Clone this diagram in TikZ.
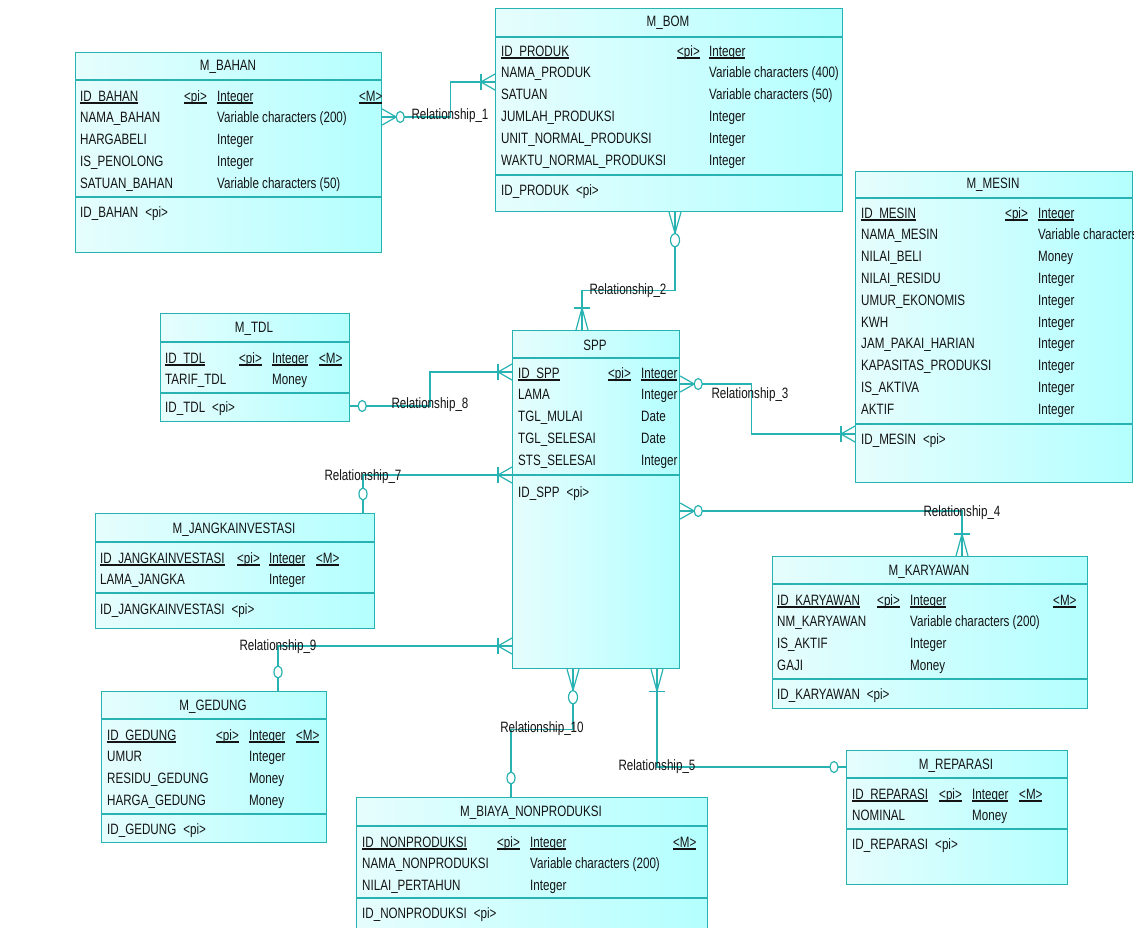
\documentclass[tikz,border=0pt]{standalone}
\usepackage{fontspec}
\setmainfont{Liberation Sans}[FakeStretch=0.775]
\usepackage{xcolor}

\definecolor{erline}{RGB}{40,178,178}
\definecolor{erfillA}{RGB}{230,253,253}
\definecolor{erfillB}{RGB}{180,255,255}
\definecolor{ertext}{RGB}{20,20,20}

\newcommand{\erfont}{\fontsize{15}{21.8}\selectfont}
\newcommand{\keyline}[1]{\setbox0\hbox{#1}\rlap{\rule[-2.5pt]{\wd0}{1.2pt}}\box0}

\begin{document}
\begin{tikzpicture}[x=1pt, y=-1pt,
    every node/.style={
        inner sep=0pt,
        text=ertext,
        font=\erfont
    },
    entity/.style={
        rectangle,
        draw=erline,
        line width=1.2pt,
        left color=erfillA,
        right color=erfillB,
        anchor=north west
    },
    sep/.style={draw=erline, line width=1.2pt},
    rel/.style={draw=erline, line width=1.2pt},
    % multi-line columns sit on the baseline of their last line
    col/.style={anchor=base west, align=left},
    zmanyh/.pic={
        \draw[rel] (0,-8) -- (14,0) -- (0,8);
        \draw[rel, fill=white] (18,0) ellipse (4 and 5.5);
    },
    omanyh/.pic={
        \draw[rel] (0,-8) -- (14,0) -- (0,8);
        \draw[rel] (14,-8) -- (14,8);
    },
    zoneh/.pic={
        \draw[rel, fill=white] (12,0) ellipse (4 and 5.5);
    },
    zmanyv/.pic={
        \draw[rel] (-6,0) -- (0,21) -- (6,0);
        \draw[rel, fill=white] (0,28) ellipse (4.5 and 6.5);
    },
    omanyv/.pic={
        \draw[rel] (-6,0) -- (0,22) -- (6,0);
        \draw[rel] (-8,22) -- (8,22);
    },
    zonev/.pic={
        \draw[rel, fill=white] (0,19) ellipse (4 and 6);
    }
]
    \fill[white] (0,0) rectangle (1137,927);
    \useasboundingbox (0,0) rectangle (1137,927);

    % M_BAHAN
    \node[entity, minimum width=306pt, minimum height=200pt] (bahan) at (75,52) {};
    \draw[sep] (75,80) -- (381,80);
    \draw[sep] (75,197) -- (381,197);
    \node (bahan_title) at (228,67) {M\_BAHAN};
    \begin{scope}
        \clip (bahan.north west) rectangle (bahan.south east);
        \node[col] (bahan_attr) at (80,188.2)
        {
            \keyline{ID\_BAHAN}\\NAMA\_BAHAN\\HARGABELI\\IS\_PENOLONG\\SATUAN\_BAHAN
        };
        \node[col] (bahan_pi) at (184,101) {\keyline{<pi>}};
        \node[col] (bahan_type) at (217,188.2)
        {
            \keyline{Integer}\\Variable characters (200)\\Integer\\Integer\\Variable characters (50)
        };
        \node[col] (bahan_m) at (359,101) {\keyline{<M>}};
    \end{scope}
    \node[col] (bahan_key) at (80,217) {ID\_BAHAN\hspace{7pt}<pi>};



    % M_BOM
    \node[entity, minimum width=347pt, minimum height=203pt] (bom) at (495,8) {};
    \draw[sep] (495,37) -- (842,37);
    \draw[sep] (495,175) -- (842,175);
    \node (bom_title) at (668,23) {M\_BOM};
    \node[col] (bom_attr) at (501,165)
    {
        \keyline{ID\_PRODUK}\\NAMA\_PRODUK\\SATUAN\\JUMLAH\_PRODUKSI\\UNIT\_NORMAL\_PRODUKSI\\WAKTU\_NORMAL\_PRODUKSI
    };
    \node[col] (bom_pi) at (677,56) {\keyline{<pi>}};
    \node[col] (bom_type) at (709,165)
    {
        \keyline{Integer}\\Variable characters (400)\\Variable characters (50)\\Integer\\Integer\\Integer
    };
    \node[col] (bom_key) at (501,195) {ID\_PRODUK\hspace{7pt}<pi>};



    % M_MESIN
    \node[entity, minimum width=277pt, minimum height=311pt] (mesin) at (855,171) {};
    \draw[sep] (855,198) -- (1132,198);
    \draw[sep] (855,424) -- (1132,424);
    \node (mesin_title) at (993,185) {M\_MESIN};
    \begin{scope}
        \clip (mesin.north west) rectangle (mesin.south east);
        \node[col] (mesin_attr) at (861,414.2)
        {
            \keyline{ID\_MESIN}\\NAMA\_MESIN\\NILAI\_BELI\\NILAI\_RESIDU\\UMUR\_EKONOMIS\\KWH\\JAM\_PAKAI\_HARIAN\\KAPASITAS\_PRODUKSI\\IS\_AKTIVA\\AKTIF
        };
        \node[col] (mesin_pi) at (1005,218) {\keyline{<pi>}};
        \node[col] (mesin_type) at (1038,414.2)
        {
            \keyline{Integer}\\Variable characters (200)\\Money\\Integer\\Integer\\Integer\\Integer\\Integer\\Integer\\Integer
        };
    \end{scope}
    \node[col] (mesin_key) at (861,444) {ID\_MESIN\hspace{7pt}<pi>};



    % M_TDL
    \node[entity, minimum width=189pt, minimum height=108pt] (tdl) at (160,313) {};
    \draw[sep] (160,342) -- (349,342);
    \draw[sep] (160,393) -- (349,393);
    \node (tdl_title) at (254,329) {M\_TDL};
    \node[col] (tdl_attr) at (165,384.8) {\keyline{ID\_TDL}\\TARIF\_TDL};
    \node[col] (tdl_pi) at (239,363) {\keyline{<pi>}};
    \node[col] (tdl_type) at (272,384.8) {\keyline{Integer}\\Money};
    \node[col] (tdl_m) at (319,363) {\keyline{<M>}};
    \node[col] (tdl_key) at (165,412) {ID\_TDL\hspace{7pt}<pi>};



    % SPP
    \node[entity, minimum width=167pt, minimum height=338pt] (spp) at (512,330) {};
    \draw[sep] (512,358) -- (679,358);
    \draw[sep] (512,475) -- (679,475);
    \node (spp_title) at (595,345) {SPP};
    \node[col] (spp_attr) at (518,465.2)
    {
        \keyline{ID\_SPP}\\LAMA\\TGL\_MULAI\\TGL\_SELESAI\\STS\_SELESAI
    };
    \node[col] (spp_pi) at (608,378) {\keyline{<pi>}};
    \node[col] (spp_type) at (641,465.2) {\keyline{Integer}\\Integer\\Date\\Date\\Integer};
    \node[col] (spp_key) at (518,497) {ID\_SPP\hspace{7pt}<pi>};



    % M_JANGKAINVESTASI
    \node[entity, minimum width=279pt, minimum height=115pt] (jangka) at (95,513) {};
    \draw[sep] (95,542) -- (374,542);
    \draw[sep] (95,593) -- (374,593);
    \node (jangka_title) at (234,530) {M\_JANGKAINVESTASI};
    \node[col] (jangka_attr) at (100,584.8) {\keyline{ID\_JANGKAINVESTASI}\\LAMA\_JANGKA};
    \node[col] (jangka_pi) at (237,563) {\keyline{<pi>}};
    \node[col] (jangka_type) at (269,584.8) {\keyline{Integer}\\Integer};
    \node[col] (jangka_m) at (316,563) {\keyline{<M>}};
    \node[col] (jangka_key) at (100,614) {ID\_JANGKAINVESTASI\hspace{7pt}<pi>};



    % M_KARYAWAN
    \node[entity, minimum width=315pt, minimum height=152pt] (karyawan) at (772,556) {};
    \draw[sep] (772,584) -- (1087,584);
    \draw[sep] (772,679) -- (1087,679);
    \node (karyawan_title) at (929,572) {M\_KARYAWAN};
    \node[col] (karyawan_attr) at (777,670.4)
    {
        \keyline{ID\_KARYAWAN}\\NM\_KARYAWAN\\IS\_AKTIF\\GAJI
    };
    \node[col] (karyawan_pi) at (877,605) {\keyline{<pi>}};
    \node[col] (karyawan_type) at (910,670.4)
    {
        \keyline{Integer}\\Variable characters (200)\\Integer\\Money
    };
    \node[col] (karyawan_m) at (1053,605) {\keyline{<M>}};
    \node[col] (karyawan_key) at (777,699) {ID\_KARYAWAN\hspace{7pt}<pi>};



    % M_GEDUNG
    \node[entity, minimum width=225pt, minimum height=151pt] (gedung) at (101,691) {};
    \draw[sep] (101,719) -- (326,719);
    \draw[sep] (101,814) -- (326,814);
    \node (gedung_title) at (213,707) {M\_GEDUNG};
    \node[col] (gedung_attr) at (107,805.4)
    {
        \keyline{ID\_GEDUNG}\\UMUR\\RESIDU\_GEDUNG\\HARGA\_GEDUNG
    };
    \node[col] (gedung_pi) at (216,740) {\keyline{<pi>}};
    \node[col] (gedung_type) at (249,805.4) {\keyline{Integer}\\Integer\\Money\\Money};
    \node[col] (gedung_m) at (296,740) {\keyline{<M>}};
    \node[col] (gedung_key) at (107,834) {ID\_GEDUNG\hspace{7pt}<pi>};



    % M_BIAYA_NONPRODUKSI
    \node[entity, minimum width=351pt, minimum height=135pt] (biaya) at (356,797) {};
    \draw[sep] (356,826) -- (707,826);
    \draw[sep] (356,898) -- (707,898);
    \node (biaya_title) at (531,813) {M\_BIAYA\_NONPRODUKSI};
    \node[col] (biaya_attr) at (362,890.6)
    {
        \keyline{ID\_NONPRODUKSI}\\NAMA\_NONPRODUKSI\\NILAI\_PERTAHUN
    };
    \node[col] (biaya_pi) at (497,847) {\keyline{<pi>}};
    \node[col] (biaya_type) at (530,890.6)
    {
        \keyline{Integer}\\Variable characters (200)\\Integer
    };
    \node[col] (biaya_m) at (673,847) {\keyline{<M>}};
    \node[col] (biaya_key) at (362,918) {ID\_NONPRODUKSI\hspace{7pt}<pi>};



    % M_REPARASI
    \node[entity, minimum width=221pt, minimum height=134pt] (reparasi) at (846,750) {};
    \draw[sep] (846,778) -- (1067,778);
    \draw[sep] (846,829) -- (1067,829);
    \node (reparasi_title) at (956,766) {M\_REPARASI};
    \node[col] (reparasi_attr) at (852,820.8) {\keyline{ID\_REPARASI}\\NOMINAL};
    \node[col] (reparasi_pi) at (939,799) {\keyline{<pi>}};
    \node[col] (reparasi_type) at (972,820.8) {\keyline{Integer}\\Money};
    \node[col] (reparasi_m) at (1019,799) {\keyline{<M>}};
    \node[col] (reparasi_key) at (852,849) {ID\_REPARASI\hspace{7pt}<pi>};



    % relationships
    \coordinate (r1a) at ([yshift=-65pt]bahan.north east);
    \coordinate (r1b) at ([yshift=-74pt]bom.north west);
    \draw[rel] (r1a) -- ++(68,0) |- (r1b);
    \pic at (r1a) {zmanyh};
    \pic[xscale=-1] at (r1b) {omanyh};
    \node (rel_1) at (450,116) {Relationship\_1};

    \coordinate (r2a) at ([xshift=180pt]bom.south west);
    \coordinate (r2b) at ([xshift=70pt]spp.north west);
    \draw[rel] (r2a) -- ++(0,78) -| (r2b);
    \pic at (r2a) {zmanyv};
    \pic[yscale=-1] at (r2b) {omanyv};
    \node (rel_2) at (628,291) {Relationship\_2};

    \coordinate (r3a) at ([yshift=-54pt]spp.north east);
    \coordinate (r3b) at ([yshift=-263pt]mesin.north west);
    \draw[rel] (r3a) -- ++(71,0) |- (r3b);
    \pic at (r3a) {zmanyh};
    \pic[xscale=-1] at (r3b) {omanyh};
    \node (rel_3) at (750,395) {Relationship\_3};

    \coordinate (r4a) at ([yshift=-181pt]spp.north east);
    \coordinate (r4b) at ([xshift=190pt]karyawan.north west);
    \draw[rel] (r4a) -| (r4b);
    \pic at (r4a) {zmanyh};
    \pic[yscale=-1] at (r4b) {omanyv};
    \node (rel_4) at (962,513) {Relationship\_4};

    \coordinate (r5a) at ([xshift=145pt]spp.south west);
    \coordinate (r5b) at ([yshift=-17pt]reparasi.north west);
    \draw[rel] (r5a) |- (r5b);
    \pic at (r5a) {omanyv};
    \pic[xscale=-1] at (r5b) {zoneh};
    \node (rel_5) at (657,767) {Relationship\_5};

    \coordinate (r7a) at ([yshift=-145pt]spp.north west);
    \coordinate (r7b) at ([xshift=268pt]jangka.north west);
    \draw[rel] (r7a) -| (r7b);
    \pic[xscale=-1] at (r7a) {omanyh};
    \pic[yscale=-1] at (r7b) {zonev};
    \node (rel_7) at (363,477) {Relationship\_7};

    \coordinate (r8a) at ([yshift=-42pt]spp.north west);
    \coordinate (r8b) at ([yshift=-93pt]tdl.north east);
    \draw[rel] (r8a) -- ++(-82,0) |- (r8b);
    \pic[xscale=-1] at (r8a) {omanyh};
    \pic at (r8b) {zoneh};
    \node (rel_8) at (430,405) {Relationship\_8};

    \coordinate (r9a) at ([yshift=-316pt]spp.north west);
    \coordinate (r9b) at ([xshift=177pt]gedung.north west);
    \draw[rel] (r9a) -| (r9b);
    \pic[xscale=-1] at (r9a) {omanyh};
    \pic[yscale=-1] at (r9b) {zonev};
    \node (rel_9) at (278,647) {Relationship\_9};

    \coordinate (r10a) at ([xshift=61pt]spp.south west);
    \coordinate (r10b) at ([xshift=155pt]biaya.north west);
    \draw[rel] (r10a) -- ++(0,60) -| (r10b);
    \pic at (r10a) {zmanyv};
    \pic[yscale=-1] at (r10b) {zonev};
    \node (rel_10) at (542,729) {Relationship\_10};

\end{tikzpicture}
\end{document}
